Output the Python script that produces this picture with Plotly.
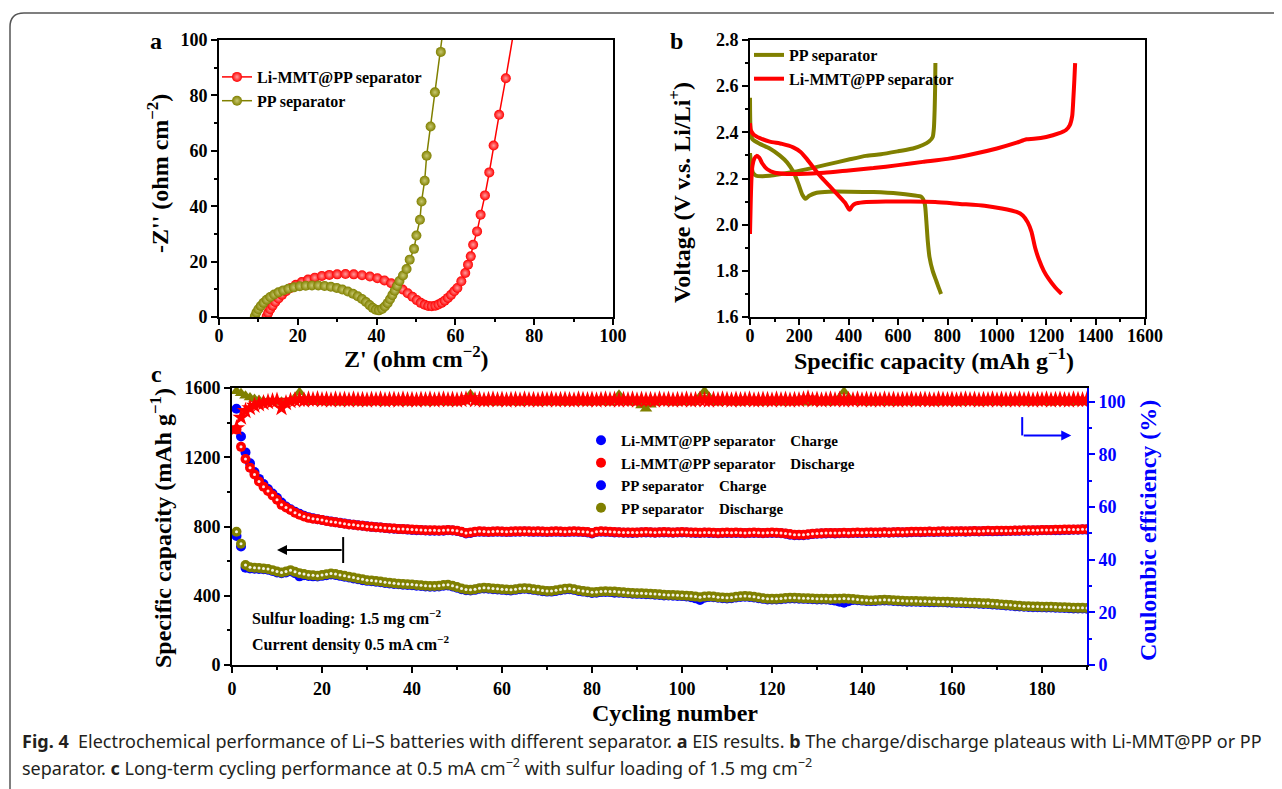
import plotly.graph_objects as go

# page offset of the plot div inside the browser (body margin)
OX, OY = 8, 8
FW, FH = 1274, 781
def px(x):
    return (x - OX) / FW
def py(y):
    return 1 - (y - OY) / FH

FONT = "Liberation Serif"
RED = "#ff0000"
OLIVE = "#808000"
BLUE = "#0000ff"

# ---------------- Panel a : EIS ----------------
a_limmt_x = [12.1, 12.5, 13.0, 13.6, 14.3, 15.1, 16.0, 17.0, 18.2, 19.5, 21.0, 22.6, 24.3, 26.1, 28.0,
             30.0, 32.1, 34.2, 36.3, 38.3, 40.2, 42.0, 43.7, 45.2, 46.6, 47.9, 49.1, 50.2, 51.2, 52.2,
             53.1, 54.0, 54.9, 55.7, 56.5, 57.3, 58.1, 58.9, 59.7, 60.5, 61.5, 62.5, 63.2, 63.9, 64.5,
             65.5, 66.4, 67.5, 68.6, 69.7, 71.1, 72.8, 74.8]
a_limmt_y = [0.2, 1.5, 2.8, 4.1, 5.4, 6.7, 8.0, 9.3, 10.5, 11.6, 12.6, 13.5, 14.2, 14.8, 15.2,
             15.4, 15.5, 15.4, 15.1, 14.6, 14.0, 13.2, 12.2, 11.1, 9.9, 8.6, 7.3, 6.1, 5.1, 4.4,
             4.0, 3.9, 4.1, 4.5, 5.1, 5.9, 6.9, 8.0, 9.3, 10.5, 12.9, 15.9, 18.9, 21.9, 26.1,
             30.9, 36.9, 43.9, 52.2, 61.9, 73.0, 86.2, 103.0]
a_pp_x = [9.1, 9.5, 10.0, 10.6, 11.3, 12.1, 13.0, 14.0, 15.1, 16.3, 17.6, 19.0, 20.5, 22.0, 23.6,
          25.2, 26.8, 28.4, 29.9, 31.3, 32.7, 34.0, 35.2, 36.3, 37.3, 38.2, 39.0, 39.8, 40.6, 41.4,
          42.1, 42.8, 43.4, 44.0, 44.6, 45.2, 45.8, 46.7, 47.6, 48.4, 49.5, 50.1, 51.0, 51.4, 52.2,
          52.7, 53.7, 54.8, 56.3, 56.9]
a_pp_y = [0.3, 1.6, 2.8, 4.0, 5.1, 6.2, 7.2, 8.1, 8.9, 9.6, 10.2, 10.7, 11.1, 11.3, 11.4,
          11.4, 11.2, 10.9, 10.5, 9.9, 9.2, 8.4, 7.5, 6.5, 5.4, 4.3, 3.3, 2.6, 2.4, 2.9,
          3.8, 5.0, 6.4, 7.9, 9.5, 11.2, 13.0, 15.0, 17.3, 20.7, 24.6, 29.4, 35.1, 41.7, 49.2,
          58.2, 68.8, 81.1, 95.7, 104.0]

# ---------------- Panel b : charge/discharge ----------------
b_pp_dis_x = [0, 3, 10, 40, 80, 120, 150, 175, 195, 212, 225, 240, 270, 320, 400, 500, 600, 660, 695,
              708, 714, 720, 727, 740, 755, 765, 774]
b_pp_dis_y = [2.55, 2.40, 2.37, 2.35, 2.33, 2.30, 2.27, 2.23, 2.18, 2.13, 2.112, 2.125, 2.138, 2.143,
              2.143, 2.141, 2.135, 2.127, 2.12, 2.09, 2.02, 1.93, 1.86, 1.80, 1.755, 1.725, 1.70]
b_pp_chg_x = [0, 5, 12, 25, 50, 80, 120, 175, 250, 310, 400, 470, 530, 600, 660, 700, 725, 740, 745,
              748, 750, 751]
b_pp_chg_y = [2.31, 2.26, 2.225, 2.212, 2.21, 2.212, 2.218, 2.228, 2.245, 2.26, 2.282, 2.298, 2.305,
              2.318, 2.33, 2.345, 2.36, 2.38, 2.42, 2.50, 2.60, 2.70]
b_li_dis_x = [0, 3, 15, 40, 80, 130, 175, 205, 230, 255, 285, 320, 355, 385, 400, 405, 412, 425, 460,
              550, 650, 750, 850, 950, 1020, 1080, 1105, 1125, 1140, 1155, 1170, 1190, 1210, 1235, 1262]
b_li_dis_y = [2.44, 2.41, 2.39, 2.375, 2.36, 2.35, 2.335, 2.315, 2.285, 2.25, 2.21, 2.17, 2.13, 2.095,
              2.068, 2.065, 2.078, 2.09, 2.097, 2.10, 2.10, 2.098, 2.09, 2.082, 2.07, 2.055, 2.04, 2.01,
              1.97, 1.90, 1.85, 1.80, 1.765, 1.73, 1.70]
b_li_chg_x = [0, 3, 6, 10, 17, 27, 38, 50, 70, 100, 150, 200, 300, 400, 500, 600, 700, 800, 900, 1000,
              1080, 1120, 1150, 1200, 1250, 1280, 1295, 1305, 1310, 1314, 1317]
b_li_chg_y = [1.96, 2.10, 2.20, 2.255, 2.285, 2.298, 2.29, 2.265, 2.24, 2.225, 2.22, 2.22, 2.225, 2.235,
              2.245, 2.258, 2.272, 2.285, 2.305, 2.33, 2.355, 2.37, 2.372, 2.38, 2.395, 2.41, 2.43, 2.47,
              2.55, 2.63, 2.70]

# ---------------- Panel c : cycling ----------------
cycles = list(range(1, 191))
c_li_chg = [1480, 1320, 1228, 1165, 1115, 1075, 1045, 1016, 990, 966,
            938, 916, 899, 885, 873, 862, 853, 847, 842, 838,
            833, 829, 825, 821, 817, 813, 810, 807, 804, 801,
            798, 796, 794, 792, 789, 787, 785, 784, 782, 780,
            779, 778, 777, 776, 775, 775, 776, 778, 777, 774,
            768, 760, 763, 768, 770, 769, 768, 769, 770, 769,
            768, 769, 770, 770, 771, 770, 769, 770, 769, 768,
            769, 770, 769, 768, 769, 770, 769, 768, 766, 760,
            768, 770, 769, 768, 766, 765, 764, 764, 763, 764,
            765, 766, 765, 764, 765, 766, 765, 764, 765, 766,
            765, 764, 763, 762, 764, 763, 762, 761, 762, 763,
            762, 763, 762, 761, 762, 763, 762, 761, 762, 763,
            762, 761, 758, 753, 750, 749, 749, 752, 756, 758,
            759, 760, 761, 760, 761, 762, 761, 762, 763, 762,
            763, 764, 763, 764, 765, 764, 765, 766, 765, 766,
            767, 768, 767, 768, 769, 768, 769, 770, 769, 770,
            770, 771, 770, 771, 772, 771, 772, 773, 772, 773,
            773, 774, 774, 775, 775, 776, 776, 777, 777, 778,
            778, 778, 779, 779, 780, 780, 781, 781, 782, 782]
c_li_dis = [1360, 1260, 1190, 1140, 1100, 1060, 1030, 1005, 980, 955,
            925, 910, 895, 880, 868, 858, 850, 845, 842, 838,
            832, 828, 824, 820, 816, 812, 810, 806, 804, 800,
            798, 796, 794, 792, 790, 788, 786, 785, 784, 782,
            781, 780, 779, 778, 778, 777, 778, 780, 779, 776,
            770, 763, 765, 770, 772, 771, 770, 771, 772, 771,
            770, 771, 772, 772, 773, 772, 771, 772, 771, 770,
            771, 772, 771, 770, 771, 772, 771, 770, 768, 762,
            770, 772, 771, 770, 768, 767, 766, 766, 765, 766,
            767, 768, 767, 766, 767, 768, 767, 766, 767, 768,
            767, 766, 765, 764, 766, 765, 764, 763, 764, 765,
            764, 765, 764, 763, 764, 765, 764, 763, 764, 765,
            764, 763, 760, 756, 753, 752, 752, 755, 758, 760,
            761, 762, 763, 762, 763, 764, 763, 764, 765, 764,
            765, 766, 765, 766, 767, 766, 767, 768, 767, 768,
            769, 770, 769, 770, 771, 770, 771, 772, 771, 772,
            772, 773, 772, 773, 774, 773, 774, 775, 774, 775,
            775, 776, 776, 777, 777, 778, 778, 779, 779, 780,
            780, 780, 781, 781, 782, 782, 783, 783, 784, 784]
c_pp_chg = [745, 685, 562, 558, 556, 555, 553, 550, 543, 535,
            530, 535, 542, 530, 512, 518, 514, 512, 511, 515,
            519, 523, 520, 515, 510, 505, 500, 495, 490, 486,
            484, 481, 478, 474, 471, 468, 466, 464, 462, 461,
            458, 456, 454, 452, 452, 454, 458, 459, 454, 446,
            438, 432, 430, 434, 440, 442, 441, 438, 436, 434,
            432, 431, 434, 438, 440, 438, 434, 430, 426, 424,
            424, 428, 432, 436, 438, 434, 428, 424, 420, 416,
            418, 421, 422, 421, 418, 418, 416, 414, 412, 411,
            410, 409, 408, 406, 404, 402, 401, 400, 399, 398,
            396, 392, 385, 375, 388, 393, 391, 388, 386, 384,
            386, 390, 393, 394, 393, 390, 386, 382, 379, 378,
            378, 380, 383, 384, 384, 383, 382, 381, 380, 379,
            379, 378, 376, 372, 366, 360, 368, 375, 374, 372,
            370, 369, 370, 372, 373, 372, 370, 368, 367, 366,
            366, 365, 364, 364, 363, 363, 362, 362, 361, 360,
            359, 358, 357, 356, 355, 354, 353, 352, 350, 348,
            346, 344, 342, 340, 338, 336, 335, 334, 334, 333,
            332, 332, 331, 330, 329, 328, 327, 326, 326, 325]
c_pp_dis = [770, 700, 578, 565, 562, 560, 558, 555, 548, 540,
            535, 540, 548, 538, 530, 525, 520, 518, 516, 520,
            524, 528, 525, 520, 515, 510, 505, 500, 495, 490,
            488, 485, 482, 478, 475, 472, 470, 468, 466, 465,
            462, 460, 458, 456, 456, 458, 462, 463, 458, 450,
            442, 436, 434, 438, 444, 446, 445, 442, 440, 438,
            436, 435, 438, 442, 444, 442, 438, 434, 430, 428,
            428, 432, 436, 440, 442, 438, 432, 428, 424, 420,
            422, 425, 426, 425, 424, 422, 420, 418, 416, 415,
            414, 413, 412, 410, 408, 406, 405, 404, 403, 402,
            400, 398, 395, 392, 395, 397, 395, 392, 390, 388,
            390, 394, 397, 398, 397, 394, 390, 386, 383, 382,
            382, 384, 387, 388, 388, 387, 386, 385, 384, 383,
            383, 382, 381, 382, 383, 384, 383, 381, 378, 376,
            374, 373, 374, 376, 377, 376, 374, 372, 371, 370,
            370, 369, 368, 368, 367, 367, 366, 366, 365, 364,
            363, 362, 361, 360, 359, 358, 357, 356, 354, 352,
            350, 348, 346, 344, 342, 340, 339, 338, 338, 337,
            336, 336, 335, 334, 333, 332, 331, 330, 330, 329]
c_li_ce = [90.0, 94.0, 96.5, 97.6, 98.5, 99.1, 99.5, 99.9, 100.2, 100.4,
           97.6, 99.5, 100.3, 100.6, 100.8, 100.5, 100.9, 100.7, 101.0, 100.6,
           100.8, 100.5, 100.9, 100.6, 100.8, 100.5, 100.9, 100.6, 100.7, 100.5,
           100.8, 100.6, 100.9, 100.5, 100.7, 100.8, 100.5, 100.9, 100.6, 100.7,
           100.5, 100.8, 100.6, 100.9, 100.5, 100.7, 100.9, 100.6, 100.8, 100.5,
           100.7, 100.9, 101.4, 100.6, 100.8, 100.5, 100.7, 100.9, 100.6, 100.8,
           100.5, 100.7, 100.8, 100.5, 100.9, 100.6, 100.7, 100.5, 100.8, 100.6,
           100.9, 100.5, 100.7, 100.8, 100.6, 100.5, 100.9, 100.7, 100.6, 100.8,
           100.5, 100.7, 100.9, 100.6, 100.8, 100.5, 100.7, 100.6, 100.9, 100.5,
           100.8, 100.6, 100.7, 100.5, 100.9, 100.6, 100.8, 100.5, 100.7, 100.6,
           100.9, 100.5, 100.7, 100.8, 100.6, 100.5, 100.8, 100.6, 100.9, 100.7,
           100.5, 100.8, 100.6, 100.7, 100.9, 100.5, 100.6, 100.8, 100.7, 100.5,
           100.9, 100.6, 100.8, 100.5, 100.7, 100.6, 100.9, 101.3, 100.6, 100.8,
           100.5, 100.7, 100.9, 100.6, 100.8, 100.5, 100.7, 100.6, 100.9, 100.5,
           100.8, 100.6, 100.7, 100.5, 100.9, 100.6, 100.8, 100.5, 100.7, 100.6,
           100.9, 100.5, 100.7, 100.8, 100.6, 100.5, 100.9, 100.7, 100.6, 100.8,
           100.5, 100.7, 100.9, 100.6, 100.8, 100.5, 100.7, 100.6, 100.9, 100.5,
           100.8, 100.6, 100.7, 100.5, 100.9, 100.6, 100.8, 100.5, 100.7, 100.6,
           100.9, 100.5, 100.7, 100.8, 100.6, 100.5, 100.9, 100.7, 100.6, 100.8]
c_pp_ce = [104.0, 103.2, 102.3, 101.6, 101.0, 100.6, 100.3, 100.2, 100.0, 100.1,
           100.0, 99.9, 100.3, 101.6, 103.6, 101.2, 100.2, 99.8, 100.0, 100.1,
           99.7, 99.9, 100.0, 99.6, 99.8, 100.0, 99.7, 99.9, 99.6, 99.8,
           100.0, 99.7, 99.9, 99.6, 99.8, 100.0, 99.7, 99.9, 99.6, 99.8,
           100.0, 99.7, 99.9, 99.6, 99.8, 100.0, 99.7, 99.9, 99.6, 99.8,
           100.0, 101.0, 102.8, 100.8, 99.8, 100.0, 99.7, 99.9, 99.6, 99.8,
           100.0, 99.7, 99.9, 99.6, 99.8, 100.0, 99.7, 99.9, 99.6, 99.8,
           100.0, 99.7, 99.9, 99.6, 99.8, 100.0, 99.7, 99.9, 99.6, 99.8,
           100.0, 99.7, 99.9, 99.6, 101.0, 102.6, 100.9, 99.9, 99.6, 99.8,
           98.6, 97.3, 98.8, 99.6, 99.8, 100.0, 99.7, 99.9, 99.6, 99.8,
           100.0, 99.7, 100.4, 102.0, 104.0, 101.8, 99.9, 99.6, 99.8, 100.0,
           99.7, 99.9, 99.6, 99.8, 100.0, 99.7, 99.9, 99.6, 99.8, 100.0,
           99.7, 99.9, 99.6, 99.8, 100.0, 99.7, 99.9, 99.6, 99.8, 100.0,
           99.7, 99.9, 99.6, 99.8, 101.5, 103.8, 101.6, 99.8, 100.0, 99.7,
           99.9, 99.6, 99.8, 100.0, 99.7, 99.9, 99.6, 99.8, 100.0, 99.7,
           99.9, 99.6, 99.8, 100.0, 99.7, 99.9, 99.6, 99.8, 100.0, 99.7,
           99.9, 99.6, 99.8, 100.0, 99.7, 99.9, 99.6, 99.8, 100.0, 99.7,
           99.9, 99.6, 99.8, 100.0, 99.7, 99.9, 99.6, 99.8, 100.0, 99.7,
           99.9, 99.6, 99.8, 100.0, 99.7, 99.9, 99.6, 99.8, 100.0, 99.7]

fig = go.Figure()

# ---- panel a traces ----
fig.add_trace(go.Scatter(x=a_limmt_x, y=a_limmt_y, mode="lines+markers", name="Li-MMT@PP separator",
                         line=dict(color=RED, width=1.5),
                         marker=dict(size=10, color=RED, gradient=dict(type="radial", color="#ff9c9c"),
                                     line=dict(width=0)),
                         xaxis="x", yaxis="y", legend="legend"))
fig.add_trace(go.Scatter(x=a_pp_x, y=a_pp_y, mode="lines+markers", name="PP separator",
                         line=dict(color=OLIVE, width=1.5),
                         marker=dict(size=10, color=OLIVE, gradient=dict(type="radial", color="#c8c870"),
                                     line=dict(width=0)),
                         xaxis="x", yaxis="y", legend="legend"))

# ---- panel b traces ----
fig.add_trace(go.Scatter(x=b_pp_dis_x, y=b_pp_dis_y, mode="lines", name="PP separator",
                         line=dict(color=OLIVE, width=4, shape="spline", smoothing=0.6),
                         xaxis="x2", yaxis="y2", legend="legend2"))
fig.add_trace(go.Scatter(x=b_pp_chg_x, y=b_pp_chg_y, mode="lines", name="PP separator", showlegend=False,
                         line=dict(color=OLIVE, width=4, shape="spline", smoothing=0.6),
                         xaxis="x2", yaxis="y2", legend="legend2"))
fig.add_trace(go.Scatter(x=b_li_dis_x, y=b_li_dis_y, mode="lines", name="Li-MMT@PP separator",
                         line=dict(color=RED, width=4, shape="spline", smoothing=0.6),
                         xaxis="x2", yaxis="y2", legend="legend2"))
fig.add_trace(go.Scatter(x=b_li_chg_x, y=b_li_chg_y, mode="lines", name="Li-MMT@PP separator", showlegend=False,
                         line=dict(color=RED, width=4, shape="spline", smoothing=0.6),
                         xaxis="x2", yaxis="y2", legend="legend2"))

# ---- panel c traces ----
NB = "\u00a0" * 4
def ball(x, y, color, name, size=10, show=True):
    fig.add_trace(go.Scatter(x=x, y=y, mode="markers", name=name, showlegend=show,
                             marker=dict(size=size, color=color, line=dict(width=0)),
                             xaxis="x3", yaxis="y3", legend="legend3"))
def shine(x, y):
    fig.add_trace(go.Scatter(x=x, y=y, mode="markers", showlegend=False, hoverinfo="skip",
                             marker=dict(size=3, color="rgba(255,255,255,0.9)", line=dict(width=0)),
                             xaxis="x3", yaxis="y3"))

ball(cycles, c_li_chg, BLUE, "Li-MMT@PP separator" + NB + "Charge")
ball(cycles, c_li_dis, RED, "Li-MMT@PP separator" + NB + "Discharge")
shine(cycles, c_li_dis)
ball(cycles, c_pp_chg, BLUE, "PP separator" + NB + "Charge")
ball(cycles, c_pp_dis, OLIVE, "PP separator" + NB + "Discharge")
shine(cycles, c_pp_dis)

fig.add_trace(go.Scatter(x=cycles, y=c_pp_ce, mode="markers", showlegend=False, name="PP CE",
                         marker=dict(size=11, symbol="triangle-up", color=OLIVE, line=dict(width=0)),
                         xaxis="x3", yaxis="y4"))
fig.add_trace(go.Scatter(x=cycles, y=c_li_ce, mode="markers", showlegend=False, name="Li-MMT CE",
                         marker=dict(size=13, symbol="star", color=RED, line=dict(width=0)),
                         xaxis="x3", yaxis="y4"))

# ---------------- layout ----------------
def ax(domain, rng, dtick, mdtick, anchor, color="black", mirror=True, fmt=None, side=None,
       overlaying=None, standoff=0):
    d = dict(domain=domain, range=rng, dtick=dtick, tick0=0, anchor=anchor, automargin=False,
             showline=True, linecolor=color, linewidth=2, mirror=mirror,
             ticks="outside", ticklen=6, tickwidth=2, tickcolor=color, ticklabelstandoff=standoff,
             minor=dict(dtick=mdtick, ticks="outside", ticklen=3, tickwidth=2, tickcolor=color),
             showgrid=False, zeroline=False,
             tickfont=dict(family=FONT, size=18, color=color, weight="bold"))
    if fmt:
        d["tickformat"] = fmt
    if side:
        d["side"] = side
    if overlaying:
        d["overlaying"] = overlaying
    return d

ya = [py(317), py(40)]
leg_common = dict(xanchor="left", yanchor="top", bgcolor="rgba(0,0,0,0)", tracegroupgap=0,
                  itemwidth=30, borderwidth=0)
fig.update_layout(
    width=FW, height=FH, margin=dict(l=0, r=0, t=0, b=0, pad=0), autosize=False,
    paper_bgcolor="white", plot_bgcolor="rgba(0,0,0,0)",
    xaxis=ax([px(219), px(613)], [0, 100], 20, 10, "y", standoff=-5),
    yaxis=ax(ya, [0, 100], 20, 10, "x"),
    xaxis2=ax([px(750), px(1145)], [0, 1600], 200, 100, "y2", standoff=-5),
    yaxis2=ax(ya, [1.6, 2.8], 0.2, 0.1, "x2", fmt=".1f"),
    xaxis3=ax([px(232), px(1087)], [0, 190], 20, 10, "y3"),
    yaxis3=ax([py(665), py(388)], [0, 1600], 400, 200, "x3", mirror=False),
    yaxis4=ax([py(665), py(388)], [0, 105.2], 20, 10, "x3", color=BLUE, mirror=False,
              side="right", overlaying="y3"),
    legend=dict(x=px(217), y=py(60), font=dict(family=FONT, size=16, color="black", weight="bold"),
                **leg_common),
    legend2=dict(x=px(749), y=py(38), font=dict(family=FONT, size=16, color="black", weight="bold"),
                 **leg_common),
    legend3=dict(x=px(581), y=py(424), font=dict(family=FONT, size=15, color="black", weight="bold"),
                 **leg_common),
    hovermode=False,
)

ann = []
def text(x, y, t, size=24, angle=0, color="black", xanchor="center", family=FONT, weight="bold"):
    ann.append(dict(x=px(x), y=py(y), xref="paper", yref="paper", text=t, showarrow=False,
                    textangle=angle, xanchor=xanchor, yanchor="middle",
                    font=dict(family=family, size=size, color=color, weight=weight)))

# panel letters
text(156, 41, "a", size=24)
text(676, 41, "b", size=24)
text(156, 374, "c", size=24)
# axis titles
text(416, 357, "Z' (ohm cm<sup>−2</sup>)")
text(158, 174, "-Z'' (ohm cm<sup>−2</sup>)", angle=-90)
text(934, 359, "Specific capacity (mAh g<sup>−1</sup>)")
text(680, 193, "Voltage (V v.s. Li/Li<sup>+</sup>)", angle=-90)
text(161, 528, "Specific capacity (mAh g<sup>−1</sup>)", angle=-90)
text(1148, 531, "Coulombic efficiency (%)", angle=-90, color=BLUE)
text(675, 713, "Cycling number")
# notes in c
text(250, 617, "Sulfur loading: 1.5 mg cm<sup>−2</sup>", size=16, xanchor="left")
text(250, 643, "Current density 0.5 mA cm<sup>−2</sup>", size=16, xanchor="left")
# caption
CAP = "#231f20"
text(20, 741, "<b>Fig. 4</b>\u00a0\u00a0Electrochemical performance of Li–S batteries with different separator. "
     "<b>a</b> EIS results. <b>b</b> The charge/discharge plateaus with Li-MMT@PP or PP",
     size=18, xanchor="left", family="Noto Sans", weight="normal", color=CAP)
text(20, 767, "separator. <b>c</b> Long-term cycling performance at 0.5 mA cm<sup>−2</sup> with sulfur loading of 1.5 mg cm<sup>−2</sup>",
     size=18, xanchor="left", family="Noto Sans", weight="normal", color=CAP)

# arrows in c
ann.append(dict(x=10.0, y=664, ax=24.7, ay=664, xref="x3", yref="y3", axref="x3", ayref="y3",
                showarrow=True, arrowhead=2, arrowsize=1, arrowwidth=2, arrowcolor="black", text=""))
ann.append(dict(x=186.5, y=1326, ax=175.6, ay=1326, xref="x3", yref="y3", axref="x3", ayref="y3",
                showarrow=True, arrowhead=2, arrowsize=1, arrowwidth=2, arrowcolor=BLUE, text=""))
fig.update_layout(annotations=ann)

shapes = [
    dict(type="line", xref="x3", yref="y3", x0=24.7, x1=24.7, y0=589, y1=739, line=dict(color="black", width=2)),
    dict(type="line", xref="x3", yref="y3", x0=175.6, x1=175.6, y0=1326, y1=1432, line=dict(color=BLUE, width=2)),
    dict(type="path", xref="paper", yref="paper",
         path=f"M {px(10)},{py(800)} L {px(10)},{py(27)} Q {px(10)},{py(13)} {px(24)},{py(13)} L {px(1300)},{py(13)}",
         line=dict(color="#555555", width=1.5)),
]
fig.update_layout(shapes=shapes)

fig.write_html("out.html")
